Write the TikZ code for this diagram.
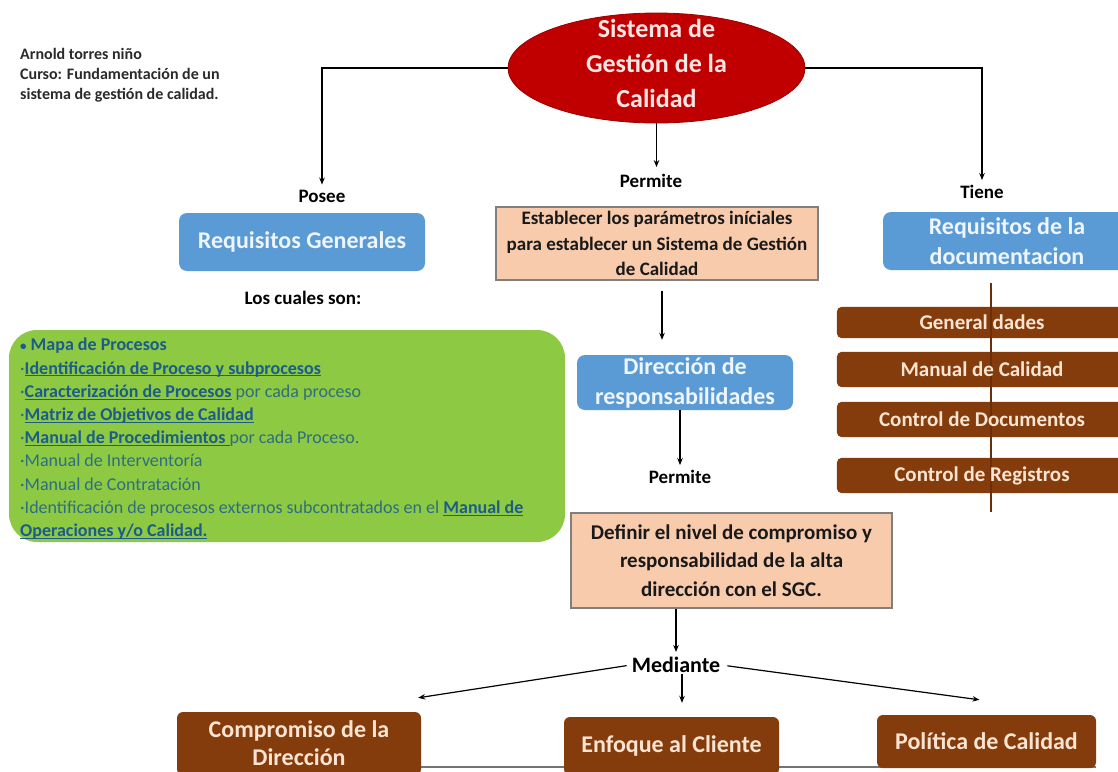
\documentclass[tikz,border=0pt]{standalone}
\usepackage{fontspec}
\setmainfont{Carlito}
\usetikzlibrary{arrows.meta,shapes.geometric}
\newcommand\ulk[1]{\leavevmode\setbox0\hbox{#1}\rlap{\rule[-2.4pt]{\wd0}{1.1pt}}\box0}
\pgfdeclarelayer{boxbg}
\pgfdeclarelayer{midline}
\pgfsetlayers{boxbg,midline,main}
\definecolor{sgcred}{HTML}{C00000}
\definecolor{sgcredtext}{HTML}{FCE6E4}
\definecolor{sgcblue}{HTML}{5B9BD5}
\definecolor{bluetext}{HTML}{EEF5FB}
\definecolor{sgcpeach}{HTML}{F8CBAD}
\definecolor{peachedge}{HTML}{7F7F7F}
\definecolor{sgcbrown}{HTML}{843C0C}
\definecolor{browntext}{HTML}{FBE5D2}
\definecolor{browndark}{HTML}{6B2E08}
\definecolor{sgcgreen}{HTML}{8DC943}
\definecolor{linkblue}{HTML}{1B5C8A}
\definecolor{plainteal}{HTML}{2E6E80}
\definecolor{authorgray}{HTML}{2A2A2A}
\begin{document}
\begin{tikzpicture}[x=1pt,y=-1pt,
  arr/.style={-{Stealth[length=7pt,width=5.5pt]}, line width=1.2pt, black},
  lbl/.style={font=\fontsize{19}{22}\selectfont\bfseries, text=black, inner sep=1pt},
  bluebox/.style={fill=sgcblue, rounded corners=8pt, text=bluetext,
    font=\fontsize{24}{30}\selectfont\bfseries, align=center, inner sep=0pt},
  peachbox/.style={draw=peachedge, line width=1.2pt, fill=sgcpeach, align=center,
    inner sep=0pt, text=black!90},
  brownbox/.style={text=browntext,
    font=\fontsize{21}{25}\selectfont\bfseries, inner sep=0pt, align=center},
  brownfill/.style={fill=sgcbrown, rounded corners=5pt},
  bottombox/.style={fill=sgcbrown, rounded corners=6pt, text=browntext,
    font=\fontsize{24}{28}\selectfont\bfseries, inner sep=0pt, align=center}
]
\useasboundingbox (0,0) rectangle (1118,771);
\begin{pgfonlayer}{boxbg}
\fill[white] (0,0) rectangle (1118,771);
\end{pgfonlayer}

% author text
\node[anchor=north west, inner sep=0pt, align=left, text=authorgray,
  font=\fontsize{16}{20}\selectfont\bfseries] (author) at (20,48)
  {Arnold torres niño\\Curso: Fundamentación de un\\sistema de gestión de calidad.};

% central ellipse
\node[ellipse, fill=sgcred, draw=sgcred!80!black, line width=0.8pt,
  minimum width=297pt, minimum height=110pt, inner sep=0pt] (sgc) at (656.5,68) {};
\node[align=center, text=sgcredtext, font=\fontsize{26}{35}\selectfont\bfseries,
  inner sep=0pt] (sgctext) at (656.5,63) {Sistema de\\Gestión de la\\Calidad};

% labels
\node[lbl] (posee) at (322,196) {Posee};
\node[lbl] (permite1) at (651,181) {Permite};
\node[lbl] (tiene) at (982,192) {Tiene};
\node[lbl] (cuales) at (303,298) {Los cuales son:};
\node[lbl] (permite2) at (680,477) {Permite};
\node[lbl, font=\fontsize{22}{26}\selectfont\bfseries] (mediante) at (676,665) {Mediante};

% blue boxes
\node[bluebox, minimum width=246pt, minimum height=58pt] (reqgen) at (302,242) {Requisitos Generales};
\node[bluebox, minimum width=248pt, minimum height=58pt] (reqdoc) at (1007,241) {Requisitos de la\\documentacion};
\node[bluebox, minimum width=216pt, minimum height=55pt] (dir) at (685,382.5) {Dirección de\\responsabilidades};

% peach boxes
\node[peachbox, minimum width=322pt, minimum height=73pt,
  font=\fontsize{19}{25.5}\selectfont\bfseries] (est) at (657,243.5)
  {Establecer los parámetros iníciales\\para establecer un Sistema de Gestión\\de Calidad};
\node[peachbox, minimum width=321pt, minimum height=95pt,
  font=\fontsize{21}{28.5}\selectfont\bfseries] (def) at (731.5,560.5)
  {Definir el nivel de compromiso y\\responsabilidad de la alta\\dirección con el SGC.};

% green box
\node[fill=sgcgreen, rounded corners=28pt, minimum width=556pt, minimum height=212pt,
  inner sep=0pt] (green) at (287,436) {};
\node[anchor=north west, inner sep=0pt, align=left, text=plainteal,
  font=\fontsize{18}{23.2}\selectfont] (greentext) at (20,338)
  {{\color{linkblue}\bfseries{\fontsize{13}{13}\selectfont•} Mapa de Procesos}\\
   ·{\color{linkblue}\bfseries\ulk{Identificación de Proceso y subprocesos}}\\
   ·{\color{linkblue}\bfseries\ulk{Caracterización de Procesos}} por cada proceso\\
   ·{\color{linkblue}\bfseries\ulk{Matriz de Objetivos de Calidad}}\\
   ·{\color{linkblue}\bfseries\ulk{Manual de Procedimientos }}por cada Proceso.\\
   ·Manual de Interventoría\\
   ·Manual de Contratación\\
   ·Identificación de procesos externos subcontratados en el {\color{linkblue}\bfseries\ulk{Manual de}}\\
   {\color{linkblue}\bfseries\ulk{Operaciones y/o Calidad.}}};

% right brown boxes (text on top, fills behind the vertical line)
\node[brownbox, minimum width=290pt, minimum height=31pt] (gen) at (982,322.5) {General dades};
\node[brownbox, minimum width=290pt, minimum height=35pt] (man) at (982,369.5) {Manual de Calidad};
\node[brownbox, minimum width=290pt, minimum height=35pt] (cdoc) at (982,419.5) {Control de Documentos};
\node[brownbox, minimum width=290pt, minimum height=35pt] (creg) at (982,475.5) {Control de Registros};
\begin{pgfonlayer}{boxbg}
\foreach \b in {gen,man,cdoc,creg}
  \fill[brownfill] (\b.north west) rectangle (\b.south east);
\end{pgfonlayer}
\coordinate (vtop) at (991,283);
\coordinate (vbot) at (991,512);
\begin{pgfonlayer}{midline}
\draw[browndark, line width=2pt] (vtop) -- (vbot);
\end{pgfonlayer}

% bottom line and boxes
\coordinate (bl) at (177,767);
\coordinate (br) at (1096,767);
\draw[line width=2pt, black!55] (bl) -- (br);
\node[bottombox, minimum width=244pt, minimum height=63pt] (comp) at (299,743.5) {Compromiso de la\\Dirección};
\node[bottombox, minimum width=215pt, minimum height=58pt] (enf) at (671.5,746) {Enfoque al Cliente};
\node[bottombox, minimum width=219pt, minimum height=53pt] (pol) at (986.5,741.5) {Política de Calidad};

% connectors from ellipse
\draw[arr, shorten >=4pt] (sgc.west) -| (posee.north);
\draw[arr, shorten >=4pt] (sgc.east) -| (tiene.north);
\draw[arr, shorten >=6pt] (sgc.south) -- (sgc.south |- permite1.north);

% central chain
\draw[arr, shorten <=10pt, shorten >=15pt] ([xshift=5pt]est.south) -- ([xshift=5pt]est.south |- dir.north);
\draw[arr, shorten >=4pt] (dir.south -| permite2.north) -- (permite2.north);
\draw[arr, shorten >=4pt] (def.south -| mediante.north) -- (mediante.north);

% from Mediante
\draw[arr, shorten <=4pt] (mediante.west) -- ([shift={(-3pt,14pt)}]comp.north east);
\draw[arr, shorten >=14pt] ([xshift=6pt]mediante.south) -- ([xshift=6pt]mediante.south |- enf.north);
\draw[arr, shorten <=6pt] (mediante.east) -- ([shift={(-7pt,15pt)}]pol.north);
\end{tikzpicture}
\end{document}
